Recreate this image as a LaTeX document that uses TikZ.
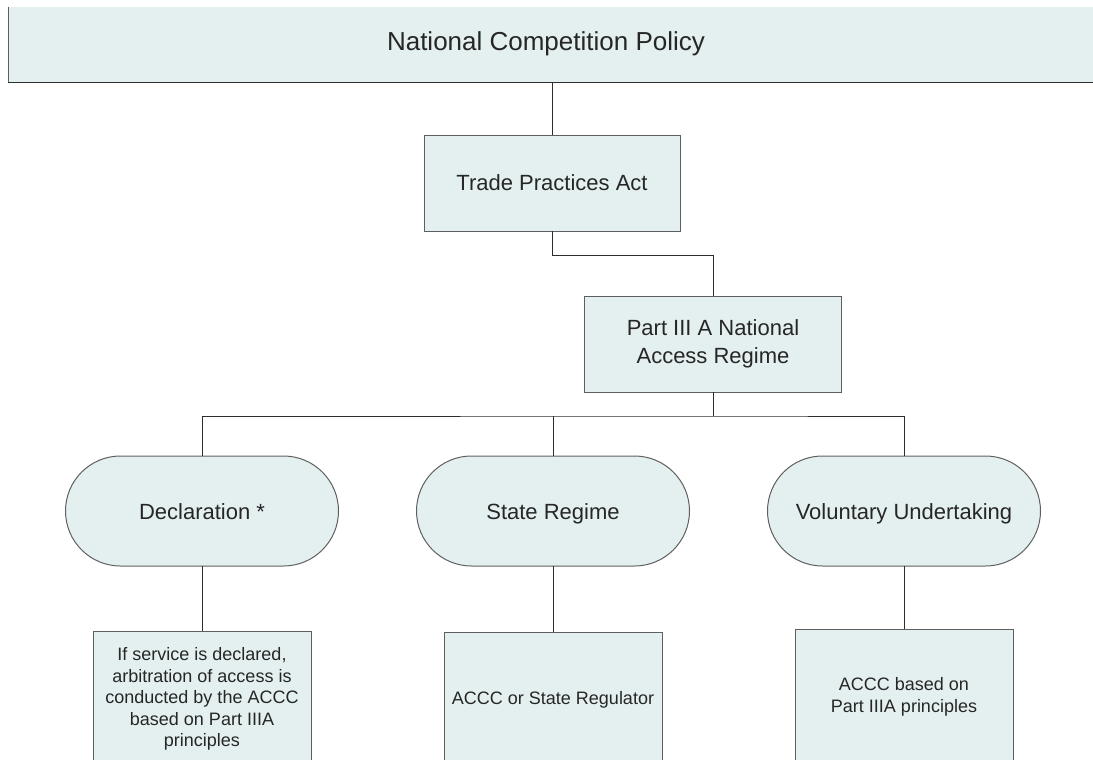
\documentclass[tikz,border=0pt]{standalone}
\usepackage{fontspec}
\setmainfont{Liberation Sans}
\usetikzlibrary{calc,shapes.misc}

\definecolor{boxfill}{RGB}{228,240,240}
\definecolor{boxline}{RGB}{95,95,95}
\definecolor{wirecol}{RGB}{45,45,45}

\begin{document}
\begin{tikzpicture}[x=1pt,y=-1pt,inner sep=0pt,outer sep=0pt,
    every node/.style={align=center,text=black!85},
    box/.style={draw=boxline,fill=boxfill,line width=1pt},
    pill/.style={box,rounded rectangle,minimum width=273pt,minimum height=110pt,
        text height=16pt,text depth=0pt,font=\fontsize{22}{27}\selectfont},
    wire/.style={draw=wirecol,line width=1pt}]
    \useasboundingbox (0,0) rectangle (1093,760);
    \clip (0,0) rectangle (1093,760);

    % banner
    \fill[boxfill] (8,7) rectangle (1100,83);
    \draw[boxline,line width=1pt] (8,7) -- (8,83);
    \draw[wirecol,line width=1pt] (8,83) -- (1100,83);
    \node (ncp) at (546,44) {\fontsize{26}{31}\selectfont National Competition Policy};
    \coordinate (ncp_foot) at (552,83);

    % act and regime
    \node[box,anchor=north,minimum width=256pt,minimum height=96pt,
        font=\fontsize{22}{27}\selectfont] (tpa) at (552,135) {Trade Practices Act};
    \node[box,anchor=north,minimum width=257pt,minimum height=96pt,
        font=\fontsize{22}{28}\selectfont] (nar) at (713,296)
    {Part III A National\\Access Regime};

    % routes
    \node[pill] (decl) at (202,511) {Declaration *};
    \node[pill] (state) at (553,511) {State Regime};
    \node[pill] (vol) at (904,511) {Voluntary Undertaking};

    % who arbitrates
    \node[box,anchor=north,minimum width=218pt,minimum height=136pt,
        font=\fontsize{18}{21.5}\selectfont] (decl_arb) at (202,631)
    {If service is declared,\\arbitration of access is\\conducted by the ACCC\\based on Part IIIA\\principles};
    \node[box,anchor=north,minimum width=218pt,minimum height=136pt,
        font=\fontsize{18}{21.5}\selectfont] (state_arb) at (553,632)
    {ACCC or State Regulator};
    \node[box,anchor=north,minimum width=218pt,minimum height=136pt,
        font=\fontsize{18}{22}\selectfont] (vol_arb) at (904,629)
    {ACCC based on\\Part IIIA principles};

    % connectors
    \coordinate (bus) at (713,416);
    \draw[wire] (ncp_foot) -- (tpa.north);
    \draw[wire] (tpa.south) -- ++(0,24) -| (nar.north);
    \draw[wire] (nar.south) -- (bus);
    \draw[wire] (decl.north) |- (bus) -| (vol.north);
    \draw[wire] (state.north) -- (state.north |- bus);
    \draw[wire] (decl.south) -- (decl_arb.north);
    \draw[wire] (state.south) -- (state_arb.north);
    \draw[wire] (vol.south) -- (vol_arb.north);

\end{tikzpicture}
\end{document}
